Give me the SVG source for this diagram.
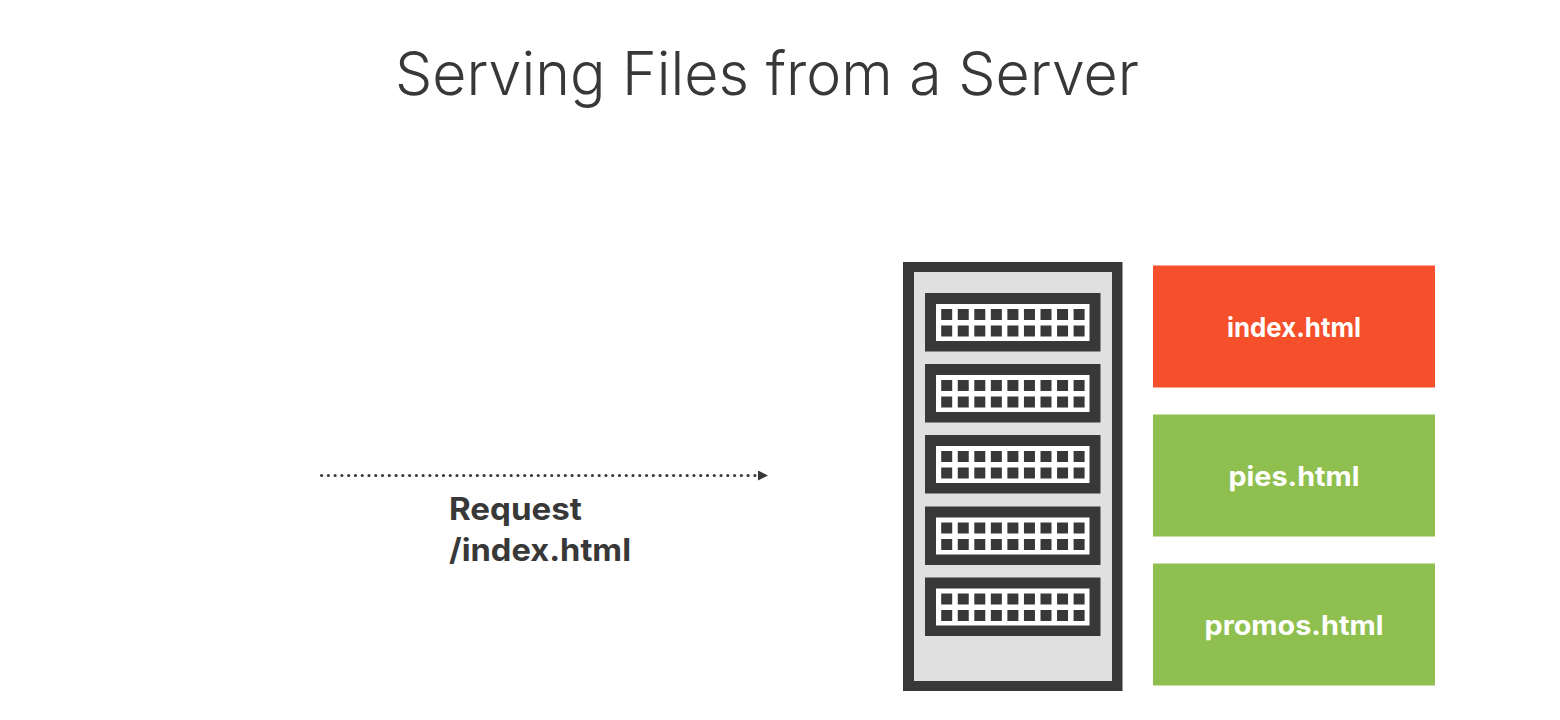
<svg xmlns="http://www.w3.org/2000/svg" width="1560" height="720" viewBox="0 0 1560 720">
<style>
.dark{fill:#383838}
.title{font-family:Inter,"Noto Sans",sans-serif;font-weight:300;font-size:60px;fill:#383838}
.lbl{font-family:Inter,"Noto Sans",sans-serif;font-weight:700;font-size:31px;fill:#383838}
.file{font-family:Inter,"Noto Sans",sans-serif;font-weight:700;font-size:27px;fill:#fff;text-anchor:middle}
</style>
<defs>
<marker id="arrow" markerUnits="userSpaceOnUse" markerWidth="11" markerHeight="12" refX="0" refY="5" orient="auto"><path d="M0 0L10 5L0 10Z" fill="#383838"/></marker>
<g id="sq"><rect class="dark" width="11" height="11"/></g>
<g id="rack">
<rect class="dark" width="175.5" height="58.5"/>
<rect x="11" y="11" width="153.5" height="37" fill="#fff"/>
<g id="sqs">
<use href="#sq" x="16.2" y="16"/><use href="#sq" x="32.75" y="16"/><use href="#sq" x="49.3" y="16"/><use href="#sq" x="65.85" y="16"/><use href="#sq" x="82.4" y="16"/><use href="#sq" x="98.95" y="16"/><use href="#sq" x="115.5" y="16"/><use href="#sq" x="132.05" y="16"/><use href="#sq" x="148.6" y="16"/>
<use href="#sq" x="16.2" y="32.5"/><use href="#sq" x="32.75" y="32.5"/><use href="#sq" x="49.3" y="32.5"/><use href="#sq" x="65.85" y="32.5"/><use href="#sq" x="82.4" y="32.5"/><use href="#sq" x="98.95" y="32.5"/><use href="#sq" x="115.5" y="32.5"/><use href="#sq" x="132.05" y="32.5"/><use href="#sq" x="148.6" y="32.5"/>
</g>
</g>
</defs>
<rect width="1560" height="720" fill="#fff"/>
<text id="title" class="title" x="395" y="95" textLength="744" lengthAdjust="spacingAndGlyphs">Serving Files from a Server</text>
<g id="connectors">
<line x1="321.6" y1="475.500" x2="758" y2="475.500" stroke="#383838" stroke-width="3.2" stroke-linecap="round" stroke-dasharray="0 6.77" marker-end="url(#arrow)"/>
</g>
<g id="request-label">
<text class="lbl" x="449" y="520" textLength="133" lengthAdjust="spacingAndGlyphs">Request</text>
<text class="lbl" x="449" y="561" textLength="182" lengthAdjust="spacingAndGlyphs">/index.html</text>
</g>
<g id="server">
<rect class="dark" x="903" y="262" width="219.500" height="429"/>
<rect x="914" y="272" width="198" height="409" fill="#e0e0e0"/>
<use href="#rack" x="925" y="293"/>
<use href="#rack" x="925" y="364"/>
<use href="#rack" x="925" y="435"/>
<use href="#rack" x="925" y="506.500"/>
<use href="#rack" x="925" y="577.500"/>
</g>
<g id="file-index">
<rect x="1153" y="265.500" width="282" height="122" fill="#f5502b"/>
<text class="file" x="1294" y="337" textLength="134" lengthAdjust="spacingAndGlyphs">index.html</text>
</g>
<g id="file-pies">
<rect x="1153" y="414.500" width="282" height="122" fill="#8fc04f"/>
<text class="file" x="1294" y="486" textLength="131" lengthAdjust="spacingAndGlyphs">pies.html</text>
</g>
<g id="file-promos">
<rect x="1153" y="563.500" width="282" height="122" fill="#8fc04f"/>
<text class="file" x="1294" y="635" textLength="179" lengthAdjust="spacingAndGlyphs">promos.html</text>
</g>
</svg>
